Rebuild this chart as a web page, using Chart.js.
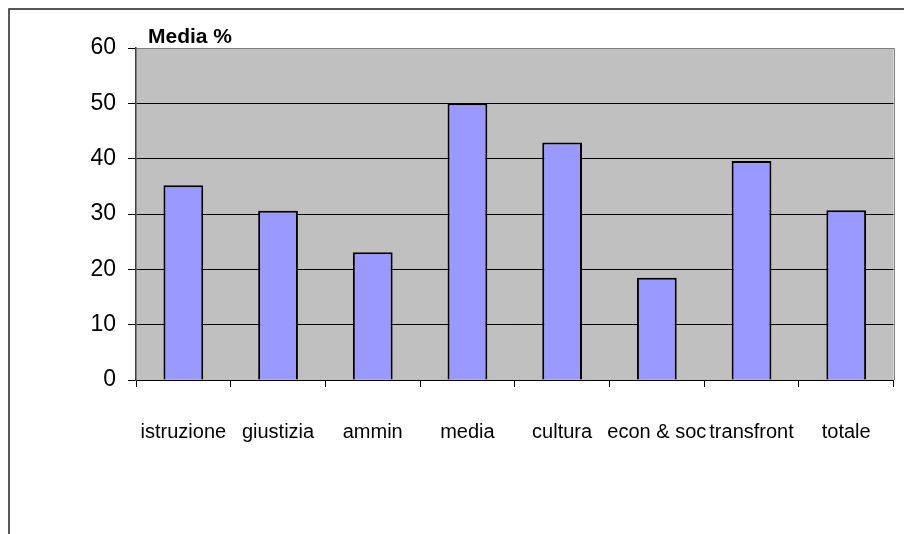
<!doctype html>
<html>
<head>
<title>Media %</title>
<script src="https://cdn.jsdelivr.net/npm/chart.js@4/dist/chart.umd.min.js"></script>
<style>
    body { margin: 0; background: #fff; }
    #wrap { width: 904px; height: 534px; position: relative; }
</style>
</head>

<body>
<div id="wrap">
    <canvas id="chart" width="904" height="534"></canvas>
</div>
<script>
    // categories and averages
    const categories = ['istruzione', 'giustizia', 'ammin', 'media', 'cultura', 'econ & soc', 'transfront', 'totale'];
    const mediaValues = [35.2, 30.6, 23.1, 50, 42.9, 18.5, 39.6, 30.7];
    const yTicks = [0, 10, 20, 30, 40, 50, 60];
    const chartTitle = 'Media %';

    const FONT = "'Liberation Sans', Arial, sans-serif";

    // grey plot area, outer frame and the little heading over the plot
    const plotFrame = {
        id: 'plotFrame',
        beforeDraw(chart) {
            const { ctx, chartArea: a } = chart;
            ctx.save();
            ctx.fillStyle = '#c0c0c0';
            ctx.fillRect(a.left, a.top, a.right - a.left, a.bottom - a.top);
            ctx.strokeStyle = '#808080';
            ctx.lineWidth = 1;
            ctx.beginPath();
            ctx.moveTo(a.left, Math.round(a.top) + 0.5);
            ctx.lineTo(Math.round(a.right) + 0.5, Math.round(a.top) + 0.5);
            ctx.lineTo(Math.round(a.right) + 0.5, a.bottom);
            ctx.stroke();
            ctx.strokeStyle = '#222';
            ctx.lineWidth = 1.5;
            ctx.strokeRect(9, 9, 1000, 1000);
            ctx.restore();
        },
        afterDraw(chart) {
            const { ctx, chartArea: a } = chart;
            ctx.save();
            ctx.fillStyle = '#000';
            ctx.font = 'bold 21px ' + FONT;
            ctx.textBaseline = 'alphabetic';
            ctx.fillText(chartTitle, a.left + 12, a.top - 5);
            ctx.restore();
        }
    };

    const ctx = document.getElementById('chart');
    new Chart(ctx, {
        type: 'bar',
        data: {
            labels: categories,
            datasets: [{
                label: chartTitle,
                data: mediaValues,
                backgroundColor: '#9999ff',
                borderColor: '#000',
                borderWidth: 2,
                categoryPercentage: 1,
                barPercentage: 0.42
            }]
        },
        options: {
            responsive: false,
            animation: false,
            layout: { padding: { top: 48, right: 5, left: 0, bottom: 0 } },
            plugins: {
                legend: { display: false },
                tooltip: { enabled: false },
                title: { display: false }
            },
            scales: {
                x: {
                    afterFit: s => { s.height = 154; },
                    grid: { drawOnChartArea: false, drawTicks: true, tickLength: 7, color: '#000', offset: true },
                    border: { color: '#000', width: 1 },
                    ticks: {
                        color: '#000',
                        font: { family: FONT, size: 20 },
                        padding: 33,
                        maxRotation: 0,
                        autoSkip: false
                    }
                },
                y: {
                    min: yTicks[0],
                    max: yTicks[yTicks.length - 1],
                    afterFit: s => { s.width = 136; },
                    afterBuildTicks: s => { s.ticks = yTicks.map(v => ({ value: v })); },
                    grid: {
                        color: c => (c.tick && c.tick.value === 60) ? '#808080' : '#000',
                        tickColor: '#000',
                        tickLength: 8,
                        lineWidth: 1
                    },
                    border: { color: '#404040', width: 1.5 },
                    ticks: {
                        color: '#000',
                        font: { family: FONT, size: 23 },
                        padding: 12
                    }
                }
            }
        },
        plugins: [plotFrame]
    });
</script>

</body>
</html>
